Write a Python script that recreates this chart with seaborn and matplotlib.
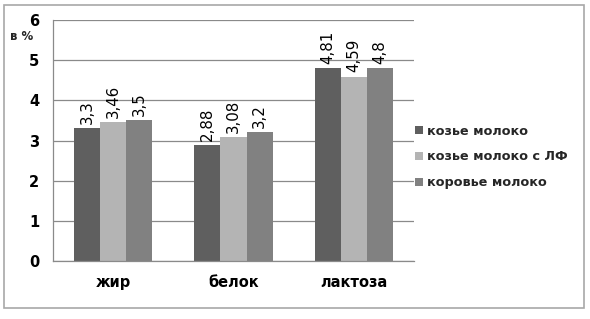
import matplotlib
matplotlib.use("Agg")
import matplotlib.pyplot as plt
import seaborn as sns
import pandas as pd
from matplotlib.patches import Rectangle, Patch

categories = ["жир", "белок", "лактоза"]
series_names = ["козье молоко", "козье молоко с ЛФ", "коровье молоко"]
goat = [3.3, 2.88, 4.81]
goat_lf = [3.46, 3.08, 4.59]
cow = [3.5, 3.2, 4.8]
yticks = [0, 1, 2, 3, 4, 5, 6]
colors = ["#5f5f5f", "#b4b4b4", "#818181"]

rows = []
for name, vals in zip(series_names, [goat, goat_lf, cow]):
    for c, v in zip(categories, vals):
        rows.append({"cat": c, "series": name, "value": v})
df = pd.DataFrame(rows)

sns.set_style("white")
plt.rcParams["font.family"] = ["DejaVu Sans"]

fig = plt.figure(figsize=(5.9, 3.19), dpi=100)
ax = fig.add_axes([53/590, 1-261/319, (414-53)/590, (261-20)/319])

sns.barplot(data=df, x="cat", y="value", hue="series", order=categories,
            hue_order=series_names, palette=colors, width=0.65, gap=0,
            saturation=1, ax=ax, legend=False, edgecolor="none")

for cont, vals in zip(ax.containers, [goat, goat_lf, cow]):
    ax.bar_label(cont, labels=[str(v).replace(".", ",") for v in vals],
                 rotation=90, padding=3, fontsize=10.8, color="#000000")

ax.set_ylim(0, 6)
ax.set_yticks(yticks)
ax.set_xlim(-0.5, 2.5)
ax.yaxis.grid(True, color="#8a8a8a", linewidth=0.9)
ax.set_axisbelow(True)
for s in ["top", "right"]:
    ax.spines[s].set_visible(False)
for s in ["left", "bottom"]:
    ax.spines[s].set_color("#8a8a8a")
    ax.spines[s].set_linewidth(0.9)
ax.tick_params(axis="y", length=4, width=0.9, color="#8a8a8a", pad=6,
               labelsize=10.5)
ax.tick_params(axis="x", which="major", length=0, pad=10, labelsize=10.5)
ax.set_xticks([-0.5, 0.5, 1.5, 2.5], minor=True)
ax.tick_params(axis="x", which="minor", length=5, width=0.9, color="#8a8a8a")
for lab in ax.get_xticklabels() + ax.get_yticklabels():
    lab.set_fontweight("bold")
    lab.set_color("#000000")
ax.set_xlabel("")
ax.set_ylabel("")

fig.text(10/590, 1-36/319, "в %", fontsize=8.5, fontweight="bold",
         va="center", ha="left")

handles = [Patch(facecolor=c, edgecolor="none") for c in colors]
fig.legend(handles, series_names, loc="center left",
           bbox_to_anchor=(403/590, 1-157/319), frameon=False,
           handlelength=0.65, handleheight=0.65, handletextpad=0.3,
           labelspacing=1.0, prop={"size": 9.2, "weight": "bold"})

fig.patches.append(Rectangle((4/590, 1-308/319), (584-4)/590, (308-5)/319,
                             transform=fig.transFigure, fill=False,
                             edgecolor="#a8a8a8", linewidth=1.2))

fig.savefig("out.png", dpi=100)
